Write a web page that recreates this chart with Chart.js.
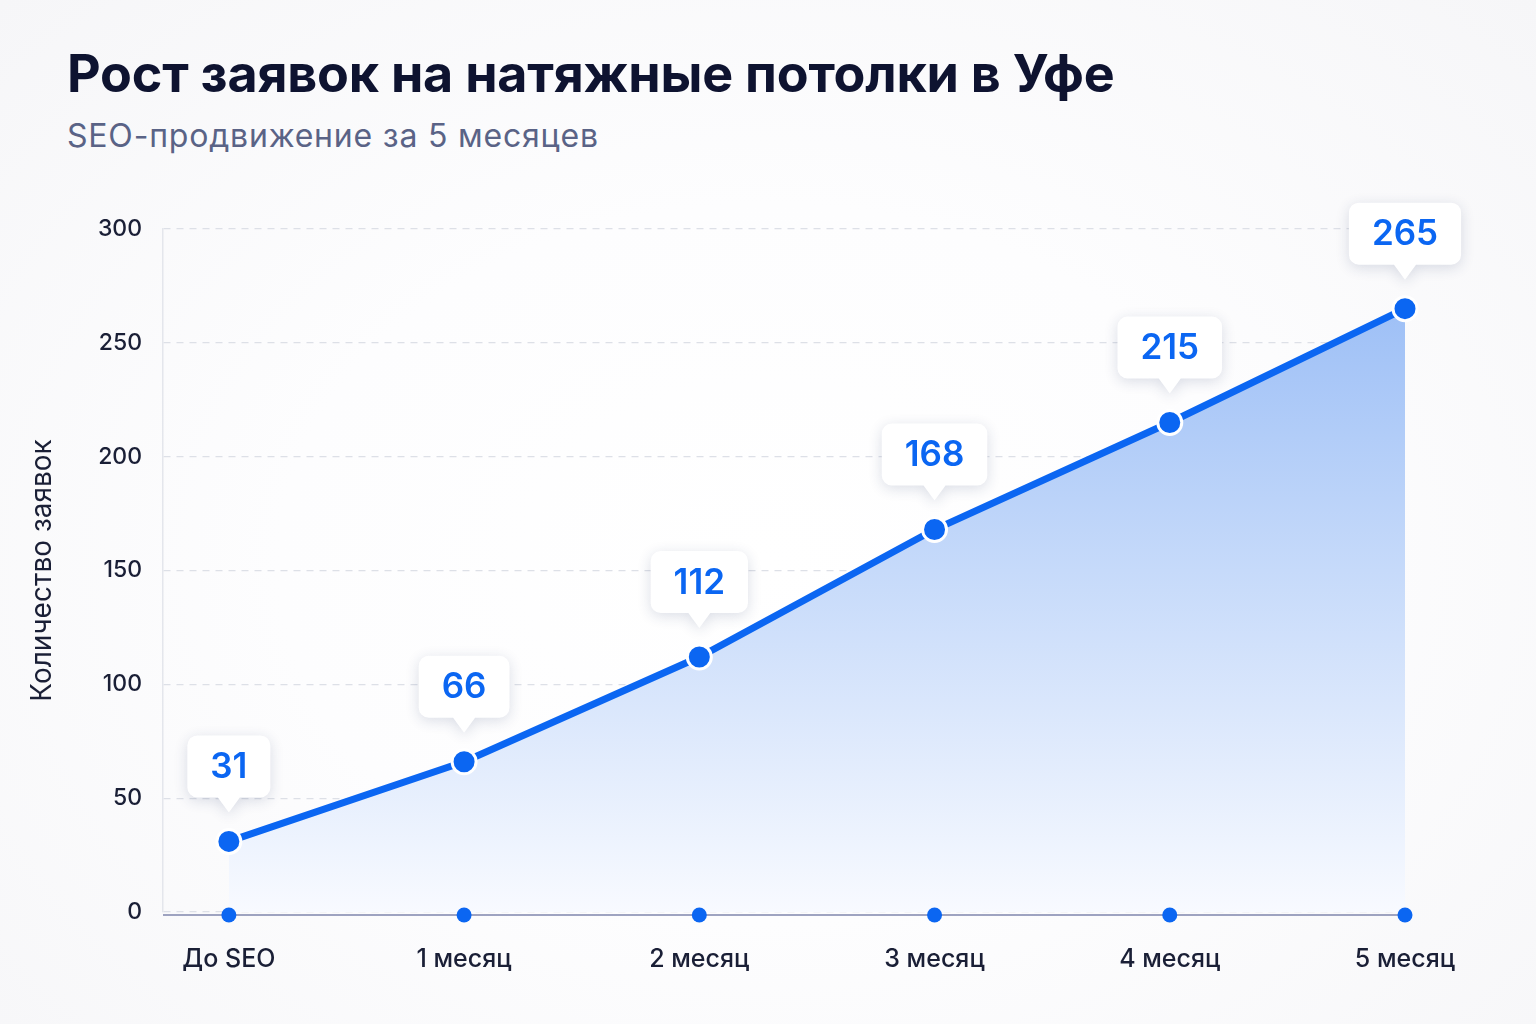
<!DOCTYPE html>
<html><head><meta charset="utf-8">
<script src="https://cdn.jsdelivr.net/npm/chart.js@4.4.1/dist/chart.umd.min.js"></script>
<style>
html,body{margin:0;padding:0;background:#f8f8fa;}
#wrap{position:relative;width:1536px;height:1024px;overflow:hidden;background:radial-gradient(ellipse at 50% 55%, #ffffff 0%, #fdfdfe 45%, #f6f6f8 100%);}
#title{position:absolute;left:67px;top:48px;font:700 52px Inter;line-height:1;color:#0e1330;white-space:nowrap;letter-spacing:-0.2px;}
#sub{position:absolute;left:67px;top:120px;font:400 32px Inter;line-height:1;color:#5a6386;white-space:nowrap;letter-spacing:0.8px;}
canvas{position:absolute;left:0;top:0;}
</style></head><body>
<div id="wrap">
<div id="title">Рост заявок на натяжные потолки в Уфе</div>
<div id="sub">SEO-продвижение за 5 месяцев</div>
<canvas id="c" width="1536" height="1024" style="width:1536px;height:1024px"></canvas>
</div>
<script>
const categories = ['До SEO','1 месяц','2 месяц','3 месяц','4 месяц','5 месяц'];
const requests = [31, 66, 112, 168, 215, 265];
const yMin = 0, yMax = 300, yStep = 50;

const BLUE = '#0b66f2';
const TEXT = '#1a1f36';

const axisDots = {
  id: 'axisDots',
  afterDatasetsDraw(chart) {
    const {ctx, chartArea, scales} = chart;
    const y = chartArea.bottom + 3;
    ctx.save();
    ctx.strokeStyle = '#7f86ad';
    ctx.lineWidth = 1.5;
    ctx.beginPath();
    ctx.moveTo(chartArea.left, y);
    ctx.lineTo(chartArea.right, y);
    ctx.stroke();
    ctx.fillStyle = BLUE;
    categories.forEach((c, i) => {
      const x = scales.x.getPixelForValue(i);
      ctx.beginPath();
      ctx.arc(x, y, 7.5, 0, Math.PI * 2);
      ctx.fill();
    });
    ctx.restore();
  }
};

const callouts = {
  id: 'callouts',
  afterDraw(chart) {
    const ctx = chart.ctx;
    const meta = chart.getDatasetMeta(0);
    ctx.save();
    ctx.font = '600 35px Inter';
    meta.data.forEach((pt, i) => {
      const txt = String(requests[i]);
      const tw = ctx.measureText(txt).width;
      const w = tw + 46, h = 62, r = 10;
      const cx = pt.x, tipY = pt.y - 29, bottom = tipY - 15, top = bottom - h, left = cx - w / 2;
      ctx.save();
      ctx.shadowColor = 'rgba(30,50,100,0.16)';
      ctx.shadowBlur = 14;
      ctx.shadowOffsetY = 3;
      ctx.fillStyle = '#ffffff';
      ctx.beginPath();
      ctx.moveTo(left + r, top);
      ctx.lineTo(left + w - r, top);
      ctx.arcTo(left + w, top, left + w, top + r, r);
      ctx.lineTo(left + w, bottom - r);
      ctx.arcTo(left + w, bottom, left + w - r, bottom, r);
      ctx.lineTo(cx + 11, bottom);
      ctx.lineTo(cx, tipY);
      ctx.lineTo(cx - 11, bottom);
      ctx.lineTo(left + r, bottom);
      ctx.arcTo(left, bottom, left, bottom - r, r);
      ctx.lineTo(left, top + r);
      ctx.arcTo(left, top, left + r, top, r);
      ctx.closePath();
      ctx.fill();
      ctx.restore();
      ctx.fillStyle = BLUE;
      ctx.textAlign = 'center';
      ctx.textBaseline = 'middle';
      ctx.fillText(txt, cx, top + h / 2 + 1);
    });
    ctx.restore();
  }
};

function fillGradient(context) {
  const {chart} = context;
  const area = chart.chartArea;
  if (!area) return 'rgba(150,186,245,1)';
  const g = chart.ctx.createLinearGradient(0, area.top, 0, area.bottom);
  g.addColorStop(0, 'rgb(146,184,245)');
  g.addColorStop(0.5, 'rgb(198,218,250)');
  g.addColorStop(1, 'rgb(248,250,255)');
  return g;
}

new Chart(document.getElementById('c'), {
  type: 'line',
  data: {
    datasets: [{
      data: requests.map((v, i) => ({x: i, y: v})),
      borderColor: BLUE,
      borderWidth: 7,
      backgroundColor: fillGradient,
      fill: 'origin',
      tension: 0,
      pointRadius: 12,
      pointHoverRadius: 12,
      pointBackgroundColor: BLUE,
      pointBorderColor: '#ffffff',
      pointBorderWidth: 3,
      clip: false
    }]
  },
  options: {
    responsive: false,
    animation: false,
    layout: {padding: {left: 20, top: 229, right: 131, bottom: 0}},
    plugins: {legend: {display: false}, tooltip: {enabled: false}},
    scales: {
      x: {
        type: 'linear',
        min: -0.28,
        max: categories.length - 1,
        afterFit(s) { s.height = 112; },
        grid: {display: false, drawTicks: false},
        border: {display: false},
        ticks: {
          stepSize: 1, includeBounds: false, autoSkip: false, maxRotation: 0,
          padding: 32, color: TEXT, font: {family: 'Inter', size: 25, weight: 500},
          callback: (v) => Number.isInteger(v) ? categories[v] : ''
        }
      },
      y: {
        min: yMin, max: yMax,
        afterFit(s) { s.width = 143; },
        ticks: {stepSize: yStep, padding: 21, color: TEXT, font: {family: 'Inter', size: 23, weight: 500}},
        grid: {color: '#dde0e7', lineWidth: 1.2, drawTicks: false},
        border: {display: true, color: '#e4e6ec', width: 1.5, dash: [7, 6]},
        title: {display: true, text: 'Количество заявок', color: TEXT, font: {family: 'Inter', size: 28}, padding: {top: 6, bottom: 0}}
      }
    }
  },
  plugins: [axisDots, callouts]
});
</script>
</body></html>
